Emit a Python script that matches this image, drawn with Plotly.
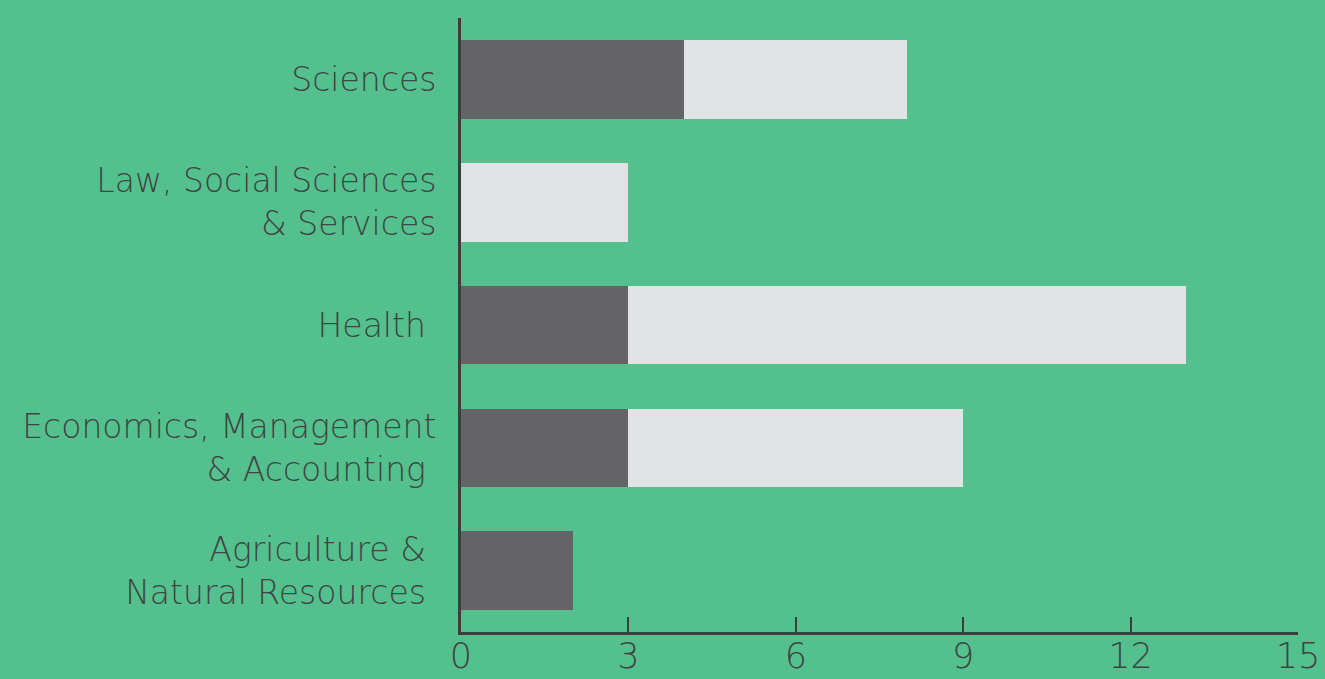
import plotly.graph_objects as go

categories = ["Sciences", "Law, Social Sciences<br>& Services", "Health ",
              "Economics, Management<br>& Accounting ", "Agriculture & <br>Natural Resources "]
dark_values = [4, 0, 3, 3, 2]
light_values = [4, 3, 10, 6, 0]
x_ticks = [0, 3, 6, 9, 12, 15]

BG = "#54C08E"
TXT = "#3E4542"
FONT = "DejaVu Sans"

fig = go.Figure()
fig.add_trace(go.Bar(y=categories, x=dark_values, orientation="h",
                     marker=dict(color="#646466", line=dict(width=0)), name="A"))
fig.add_trace(go.Bar(y=categories, x=light_values, orientation="h",
                     marker=dict(color="#E2E3E5", line=dict(width=0)), name="B"))

fig.update_layout(
    barmode="stack", bargap=0.36, showlegend=False,
    width=1325, height=679,
    paper_bgcolor=BG, plot_bgcolor=BG,
    margin=dict(l=461, r=27, t=18, b=47, autoexpand=False),
    font=dict(family=FONT, color=TXT, weight=300),
    xaxis=dict(range=[0, 15], tickvals=x_ticks, ticks="inside", ticklen=15,
               tickwidth=2, tickcolor="#3A3F3D", showline=True, linecolor="#3A3F3D",
               linewidth=3, showgrid=False, zeroline=False, automargin=False,
               ticklabelstandoff=-9,
               tickfont=dict(size=35, family=FONT, color=TXT, weight=300)),
    yaxis=dict(categoryorder="array", categoryarray=categories[::-1],
               range=[-0.5, 4.5], showline=True, linecolor="#3A3F3D", linewidth=3,
               showgrid=False, zeroline=False, ticks="", ticklabelstandoff=15,
               automargin=False,
               tickfont=dict(size=33, family=FONT, color=TXT, weight=300)),
)

fig.write_html("out.html", config={"displayModeBar": False},
               post_script="document.body.style.margin='0';")
